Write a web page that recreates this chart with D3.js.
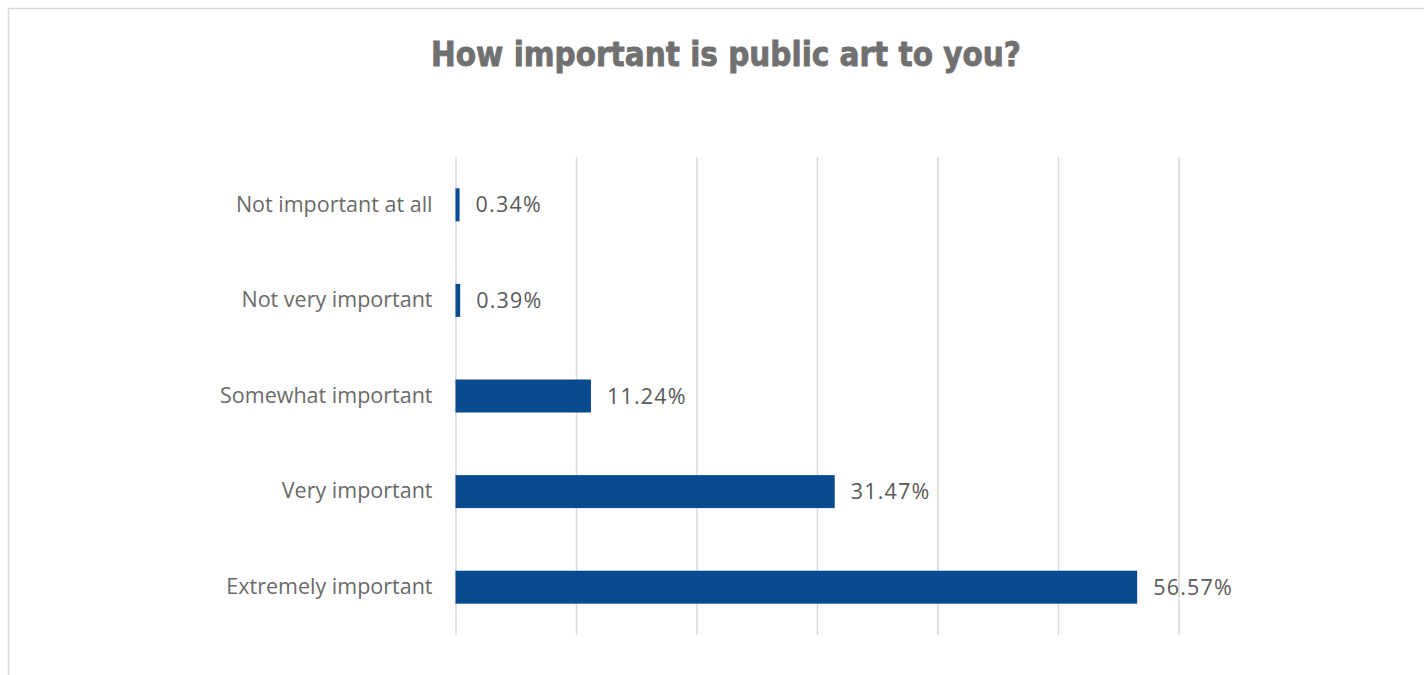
<!DOCTYPE html>
<html><head><meta charset="utf-8">
<script src="https://cdn.jsdelivr.net/npm/d3@7"></script>
<style>body{margin:0;background:#fff;}svg{display:block;}</style>
</head><body>
<svg id="c" width="1424" height="675"></svg>
<script>
const categories = ["Not important at all","Not very important","Somewhat important","Very important","Extremely important"];
const values = [0.34, 0.39, 11.24, 31.47, 56.57];
const valueLabels = ["0.34%","0.39%","11.24%","31.47%","56.57%"];
const xTicks = [0,10,20,30,40,50,60];
const title = "How important is public art to you?";

const svg = d3.select("#c");
svg.append("rect").attr("x",8.5).attr("y",8.5).attr("width",1430).attr("height",700)
  .attr("fill","#fff").attr("stroke","#d9d9d9").attr("stroke-width",1.5);

const x = d3.scaleLinear().domain([0,60]).range([455.5,1178.5]);
const y = d3.scaleBand().domain(categories).range([157,635]).paddingInner(0.655).paddingOuter(0.3275);

svg.append("text").attr("x",726).attr("y",66).attr("text-anchor","middle")
  .attr("font-family","DejaVu Sans Condensed, DejaVu Sans").attr("font-weight","bold")
  .attr("font-size",34).attr("fill","#707070").attr("stroke","#707070").attr("stroke-width",0.8)
  .attr("textLength",590).attr("lengthAdjust","spacingAndGlyphs").text(title);

const grid = svg.append("g").attr("transform","translate(0,635)")
  .call(d3.axisBottom(x).tickValues(xTicks).tickSize(-478).tickFormat(""));
grid.select(".domain").remove();
grid.selectAll("line").attr("stroke","#d9d9d9").attr("stroke-width",1.5);

svg.selectAll("rect.bar").data(values).join("rect").attr("class","bar")
  .attr("x",x(0)).attr("y",(d,i)=>y(categories[i]))
  .attr("width",d=>x(d)-x(0)).attr("height",y.bandwidth())
  .attr("fill","#084b91");

const ya = svg.append("g").attr("transform",`translate(${x(0)},0)`)
  .call(d3.axisLeft(y).tickSize(0).tickPadding(23));
ya.select(".domain").remove();
ya.selectAll("text").attr("font-family","Open Sans").attr("font-size",21.5).attr("fill","#6a6a6a");

svg.selectAll("text.val").data(values).join("text").attr("class","val")
  .attr("x",d=>x(d)+16).attr("y",(d,i)=>y(categories[i])+y.bandwidth()/2)
  .attr("dy","0.35em").attr("font-family","Open Sans").attr("font-size",21.5)
  .attr("letter-spacing",1.2).attr("fill","#595959")
  .text((d,i)=>valueLabels[i]);
</script>
</body></html>
